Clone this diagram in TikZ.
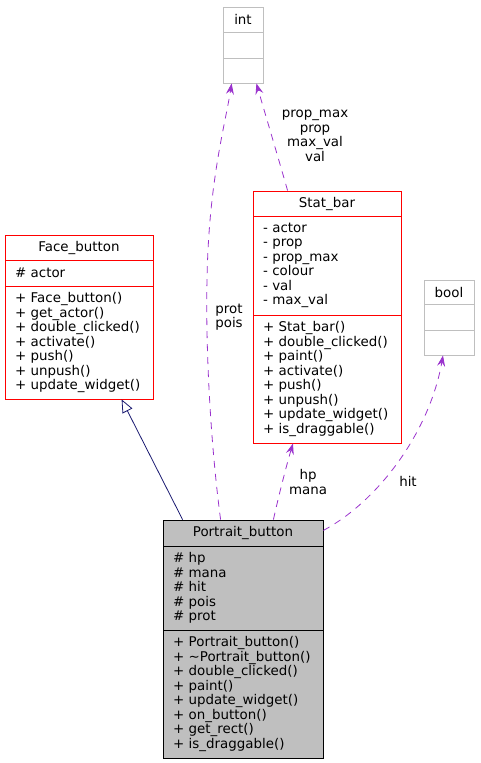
\documentclass[tikz,border=0pt]{standalone}
\usepackage{fontspec}
\setmainfont{DejaVu Sans}
\usetikzlibrary{arrows.meta}

\definecolor{usepurple}{RGB}{154,50,205}
\definecolor{inhnavy}{RGB}{25,25,112}
\definecolor{boxgray}{RGB}{191,191,191}

\tikzset{
  clsfont/.style={font=\fontsize{13.4}{14.5}\selectfont},
  hdr/.style={clsfont, draw, line width=0.8pt, inner sep=0pt, minimum width=#1, align=center},
  mbr/.style={clsfont, draw, line width=0.8pt, inner xsep=10pt, inner ysep=0pt, text width=#1, align=left},
  redbox/.style={draw=red},
  graybox/.style={draw=boxgray},
  curbox/.style={draw=black, fill=boxgray},
  lbl/.style={clsfont, inner sep=0pt, align=center},
  uses/.style={draw=usepurple, line width=0.8pt, dash pattern=on 7pt off 6pt, -{Stealth[length=11pt,width=8pt,inset=4pt]}},
  inherit/.style={draw=inhnavy, line width=0.8pt, -{Triangle[open,length=13pt,width=11pt]}}
}

\begin{document}
\begin{tikzpicture}[x=1pt,y=1pt,yscale=-1,xscale=1]
\useasboundingbox (0,0) rectangle (480,763);

% int
\node [hdr=40pt, graybox, minimum height=25pt] (int) at (243,19.5) {int};
\node [hdr=40pt, graybox, minimum height=26pt] (intA) at (243,45) {};
\node [hdr=40pt, graybox, minimum height=25pt] (intO) at (243,70.5) {};

% bool
\node [hdr=50pt, graybox, minimum height=24pt] (bool) at (449,292) {bool};
\node [hdr=50pt, graybox, minimum height=26pt] (boolA) at (449,317) {};
\node [hdr=50pt, graybox, minimum height=25pt] (boolO) at (449,342.5) {};

% Face_button
\node [hdr=148pt, redbox, minimum height=25pt] (fb) at (79,247.5) {Face\_button};
\node [mbr=128pt, redbox, minimum height=26pt] (fbA) at (79,273) {\# actor};
\node [mbr=128pt, redbox, minimum height=113pt] (fbO) at (79,342.5) {+ Face\_button()\\+ get\_actor()\\+ double\_clicked()\\+ activate()\\+ push()\\+ unpush()\\+ update\_widget()};

% Stat_bar
\node [hdr=148pt, redbox, minimum height=25pt] (sb) at (327,203.5) {Stat\_bar};
\node [mbr=128pt, redbox, minimum height=99pt] (sbA) at (327,265.5) {- actor\\- prop\\- prop\_max\\- colour\\- val\\- max\_val};
\node [mbr=128pt, redbox, minimum height=128pt] (sbO) at (327,379) {+ Stat\_bar()\\+ double\_clicked()\\+ paint()\\+ activate()\\+ push()\\+ unpush()\\+ update\_widget()\\+ is\_draggable()};

% Portrait_button
\node [hdr=160pt, curbox, minimum height=26pt] (pb) at (243,533) {Portrait\_button};
\node [mbr=140pt, curbox, minimum height=84pt] (pbA) at (243,588) {\# hp\\\# mana\\\# hit\\\# pois\\\# prot};
\node [mbr=140pt, curbox, minimum height=128pt] (pbO) at (243,694) {+ Portrait\_button()\\+ \textasciitilde Portrait\_button()\\+ double\_clicked()\\+ paint()\\+ update\_widget()\\+ on\_button()\\+ get\_rect()\\+ is\_draggable()};

% edges
\draw [inherit] ([xshift=20pt]pb.north west) -- ([xshift=117pt]fbO.south west);

\draw [uses] ([xshift=58pt]pb.north west) .. controls (210,440) and (204,330) .. (208,250)
  .. controls (212,170) and (226,120) .. ([xshift=9pt]intO.south west);
\draw [uses] ([xshift=35pt]sb.north west) .. controls (276,150) and (264,110) .. ([xshift=-7pt]intO.south east);
\draw [uses] ([xshift=-50pt]pb.north east) .. controls (280,490) and (288,460) .. ([xshift=-34pt]sbO.south);
\draw [uses] ([yshift=-16pt]pb.south east) .. controls (380,500) and (430,430) .. ([xshift=-6pt]boolO.south);

% labels
\node [lbl] (lprot) at (229,317) {prot\\pois};
\node [lbl] (lprop) at (315,136) {prop\_max\\prop\\max\_val\\val};
\node [lbl] (lhp) at (308,482) {hp\\mana};
\node [lbl] (lhit) at (408,481) {hit};

\end{tikzpicture}
\end{document}
